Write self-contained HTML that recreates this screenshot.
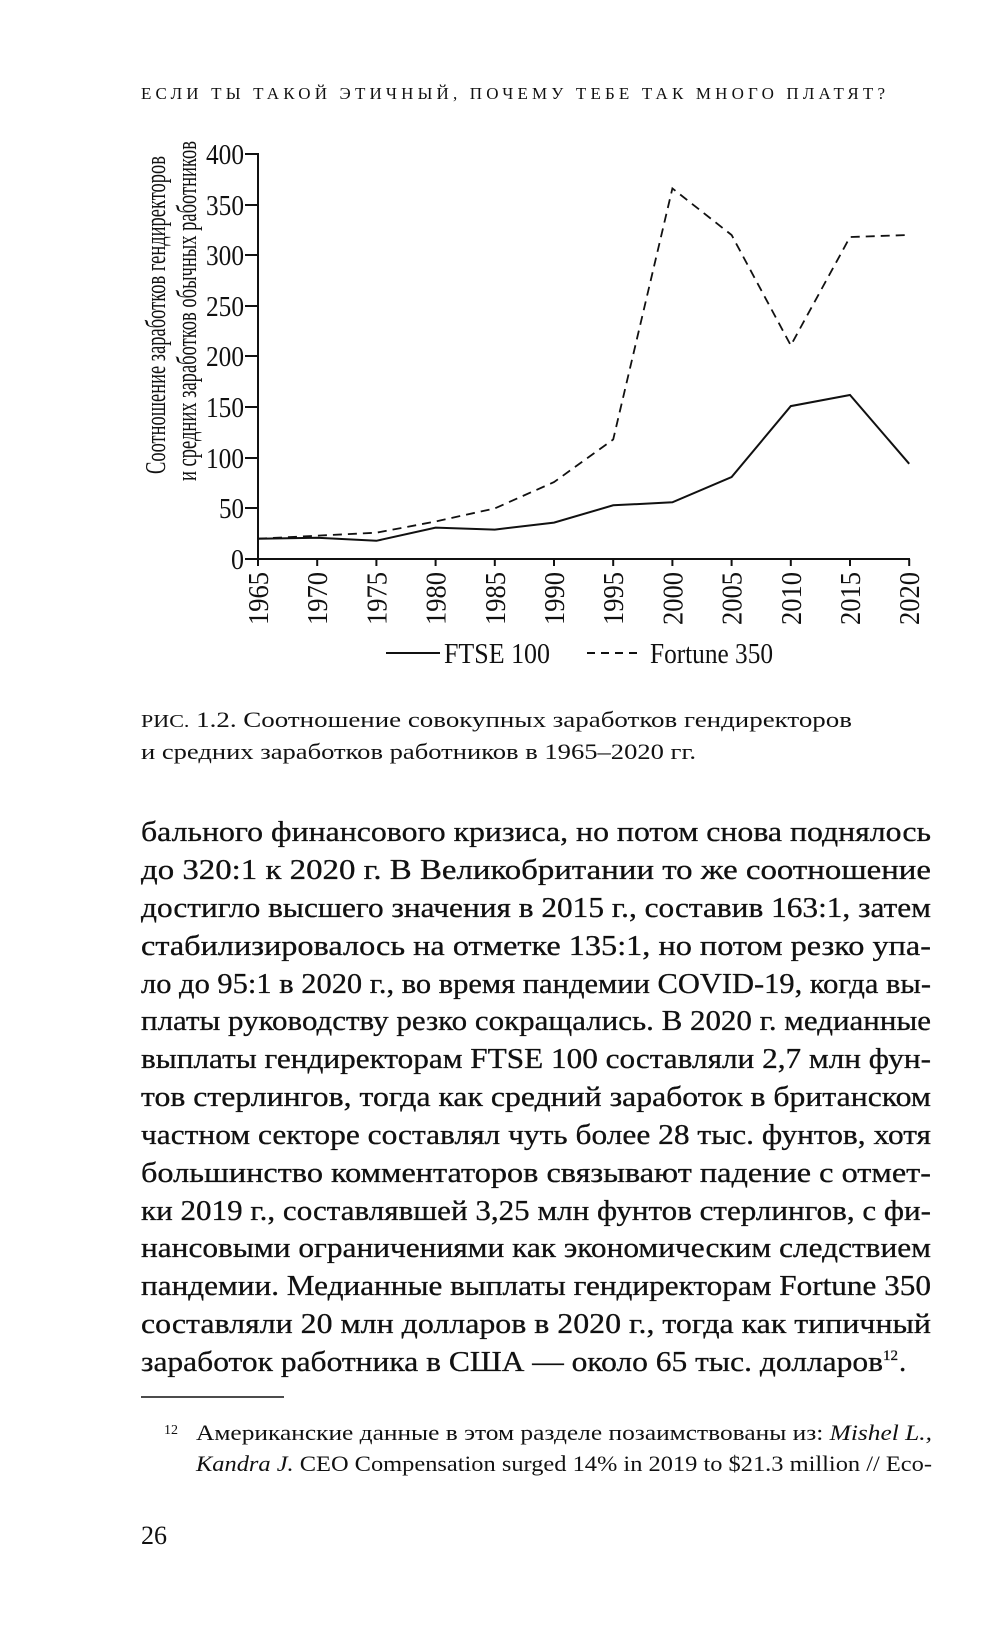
<!DOCTYPE html>
<html><head><meta charset="utf-8"><style>
html,body{margin:0;padding:0;background:#fff;}
svg{display:block;}
text{font-family:"Liberation Serif",serif;fill:#111;}
</style></head><body>
<svg width="1000" height="1635" viewBox="0 0 1000 1635" xmlns="http://www.w3.org/2000/svg">
<text x="141" y="99" font-size="17" textLength="744" lengthAdjust="spacing">ЕСЛИ ТЫ ТАКОЙ ЭТИЧНЫЙ, ПОЧЕМУ ТЕБЕ ТАК МНОГО ПЛАТЯТ?</text>

<!-- y label -->
<text transform="translate(165,315) rotate(-90)" font-size="29" text-anchor="middle" textLength="318" lengthAdjust="spacingAndGlyphs">Соотношение заработков гендиректоров</text>
<text transform="translate(196,311) rotate(-90)" font-size="29" text-anchor="middle" textLength="340" lengthAdjust="spacingAndGlyphs">и средних заработков обычных работников</text>

<!-- axes -->
<g stroke="#111" stroke-width="2" fill="none">
<line x1="258" y1="153" x2="258" y2="560"/>
<line x1="257" y1="559" x2="910" y2="559"/>
<line x1="245" y1="154" x2="258" y2="154"/>
<line x1="245" y1="205" x2="258" y2="205"/>
<line x1="245" y1="255" x2="258" y2="255"/>
<line x1="245" y1="306" x2="258" y2="306"/>
<line x1="245" y1="356" x2="258" y2="356"/>
<line x1="245" y1="407" x2="258" y2="407"/>
<line x1="245" y1="458" x2="258" y2="458"/>
<line x1="245" y1="508" x2="258" y2="508"/>
<line x1="245" y1="559" x2="258" y2="559"/>
<line x1="258" y1="559" x2="258" y2="566"/>
<line x1="317.2" y1="559" x2="317.2" y2="566"/>
<line x1="376.4" y1="559" x2="376.4" y2="566"/>
<line x1="435.6" y1="559" x2="435.6" y2="566"/>
<line x1="494.8" y1="559" x2="494.8" y2="566"/>
<line x1="554" y1="559" x2="554" y2="566"/>
<line x1="613.2" y1="559" x2="613.2" y2="566"/>
<line x1="672.4" y1="559" x2="672.4" y2="566"/>
<line x1="731.6" y1="559" x2="731.6" y2="566"/>
<line x1="790.8" y1="559" x2="790.8" y2="566"/>
<line x1="850" y1="559" x2="850" y2="566"/>
<line x1="909.2" y1="559" x2="909.2" y2="566"/>
</g>
<g font-size="29" text-anchor="end">
<text x="244" y="164" textLength="38" lengthAdjust="spacingAndGlyphs">400</text>
<text x="244" y="215" textLength="38" lengthAdjust="spacingAndGlyphs">350</text>
<text x="244" y="265" textLength="38" lengthAdjust="spacingAndGlyphs">300</text>
<text x="244" y="316" textLength="38" lengthAdjust="spacingAndGlyphs">250</text>
<text x="244" y="366" textLength="38" lengthAdjust="spacingAndGlyphs">200</text>
<text x="244" y="417" textLength="38" lengthAdjust="spacingAndGlyphs">150</text>
<text x="244" y="468" textLength="38" lengthAdjust="spacingAndGlyphs">100</text>
<text x="244" y="518" textLength="25" lengthAdjust="spacingAndGlyphs">50</text>
<text x="244" y="569" textLength="13" lengthAdjust="spacingAndGlyphs">0</text>
</g>
<g font-size="29" text-anchor="end">
<text transform="translate(268,572) rotate(-90)" textLength="53" lengthAdjust="spacingAndGlyphs">1965</text>
<text transform="translate(327.2,572) rotate(-90)" textLength="53" lengthAdjust="spacingAndGlyphs">1970</text>
<text transform="translate(386.4,572) rotate(-90)" textLength="53" lengthAdjust="spacingAndGlyphs">1975</text>
<text transform="translate(445.6,572) rotate(-90)" textLength="53" lengthAdjust="spacingAndGlyphs">1980</text>
<text transform="translate(504.8,572) rotate(-90)" textLength="53" lengthAdjust="spacingAndGlyphs">1985</text>
<text transform="translate(564,572) rotate(-90)" textLength="53" lengthAdjust="spacingAndGlyphs">1990</text>
<text transform="translate(623.2,572) rotate(-90)" textLength="53" lengthAdjust="spacingAndGlyphs">1995</text>
<text transform="translate(682.4,572) rotate(-90)" textLength="53" lengthAdjust="spacingAndGlyphs">2000</text>
<text transform="translate(741.6,572) rotate(-90)" textLength="53" lengthAdjust="spacingAndGlyphs">2005</text>
<text transform="translate(800.8,572) rotate(-90)" textLength="53" lengthAdjust="spacingAndGlyphs">2010</text>
<text transform="translate(860,572) rotate(-90)" textLength="53" lengthAdjust="spacingAndGlyphs">2015</text>
<text transform="translate(919.2,572) rotate(-90)" textLength="53" lengthAdjust="spacingAndGlyphs">2020</text>
</g>

<!-- series -->
<polyline fill="none" stroke="#111" stroke-width="2" points="258,538.8 317.2,537.7 376.4,540.8 435.6,527.6 494.8,529.6 554,522.6 613.2,505.3 672.4,502.3 731.6,477 790.8,406.1 850,395 909.2,463.8"/>
<polyline fill="none" stroke="#111" stroke-width="1.8" stroke-dasharray="9,6" points="258,538.7 317.2,535.7 376.4,532.7 435.6,521.5 494.8,508.4 554,482.1 613.2,439.5 672.4,188.4 731.6,235 790.8,345.4 850,237 909.2,235"/>

<!-- legend -->
<line x1="386" y1="653" x2="440" y2="653" stroke="#111" stroke-width="2"/>
<text x="444" y="663" font-size="28" textLength="106" lengthAdjust="spacingAndGlyphs">FTSE 100</text>
<line x1="587" y1="653" x2="640" y2="653" stroke="#111" stroke-width="2" stroke-dasharray="8,6"/>
<text x="650" y="663" font-size="28" textLength="123" lengthAdjust="spacingAndGlyphs">Fortune 350</text>

<!-- caption -->
<text x="141" y="727" font-size="22" textLength="711" lengthAdjust="spacingAndGlyphs"><tspan font-size="18">РИС.</tspan> 1.2. Соотношение совокупных заработков гендиректоров</text>
<text x="141" y="759" font-size="22" textLength="555" lengthAdjust="spacingAndGlyphs">и средних заработков работников в 1965–2020 гг.</text>

<!-- body -->
<g font-size="29" stroke="#111" stroke-width="0.3">
<text x="141" y="841" textLength="790" lengthAdjust="spacingAndGlyphs">бального финансового кризиса, но потом снова поднялось</text>
<text x="141" y="879" textLength="790" lengthAdjust="spacingAndGlyphs">до 320:1 к 2020 г. В Великобритании то же соотношение</text>
<text x="141" y="917" textLength="790" lengthAdjust="spacingAndGlyphs">достигло высшего значения в 2015 г., составив 163:1, затем</text>
<text x="141" y="955" textLength="790" lengthAdjust="spacingAndGlyphs">стабилизировалось на отметке 135:1, но потом резко упа-</text>
<text x="141" y="993" textLength="790" lengthAdjust="spacingAndGlyphs">ло до 95:1 в 2020 г., во время пандемии COVID-19, когда вы-</text>
<text x="141" y="1030" textLength="790" lengthAdjust="spacingAndGlyphs">платы руководству резко сокращались. В 2020 г. медианные</text>
<text x="141" y="1068" textLength="790" lengthAdjust="spacingAndGlyphs">выплаты гендиректорам FTSE 100 составляли 2,7 млн фун-</text>
<text x="141" y="1106" textLength="790" lengthAdjust="spacingAndGlyphs">тов стерлингов, тогда как средний заработок в британском</text>
<text x="141" y="1144" textLength="790" lengthAdjust="spacingAndGlyphs">частном секторе составлял чуть более 28 тыс. фунтов, хотя</text>
<text x="141" y="1182" textLength="790" lengthAdjust="spacingAndGlyphs">большинство комментаторов связывают падение с отмет-</text>
<text x="141" y="1220" textLength="790" lengthAdjust="spacingAndGlyphs">ки 2019 г., составлявшей 3,25 млн фунтов стерлингов, с фи-</text>
<text x="141" y="1257" textLength="790" lengthAdjust="spacingAndGlyphs">нансовыми ограничениями как экономическим следствием</text>
<text x="141" y="1295" textLength="790" lengthAdjust="spacingAndGlyphs">пандемии. Медианные выплаты гендиректорам Fortune 350</text>
<text x="141" y="1333" textLength="790" lengthAdjust="spacingAndGlyphs">составляли 20 млн долларов в 2020 г., тогда как типичный</text>
<text x="141" y="1371" textLength="742" lengthAdjust="spacingAndGlyphs">заработок работника в США — около 65 тыс. долларов</text>
<text x="883" y="1360" font-size="15">12</text>
<text x="899" y="1371">.</text>
</g>

<line x1="141" y1="1397" x2="284" y2="1397" stroke="#111" stroke-width="1.5"/>
<text x="164" y="1434" font-size="14">12</text>
<text x="196" y="1440" font-size="22" textLength="736" lengthAdjust="spacingAndGlyphs">Американские данные в этом разделе позаимствованы из: <tspan font-style="italic">Mishel L.,</tspan></text>
<text x="196" y="1471" font-size="22" textLength="736" lengthAdjust="spacingAndGlyphs"><tspan font-style="italic">Kandra J.</tspan> CEO Compensation surged 14% in 2019 to $21.3 million // Eco-</text>

<text x="141" y="1544" font-size="26">26</text>
</svg>
</body></html>
